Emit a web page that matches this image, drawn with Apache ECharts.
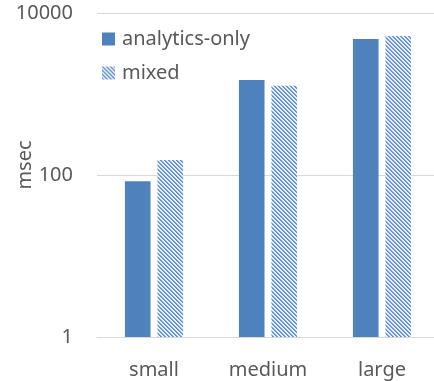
<!DOCTYPE html>
<html>
<head>
<meta charset="utf-8">
<script src="https://cdn.jsdelivr.net/npm/echarts@6/dist/echarts.min.js"></script>
<style>
  html, body { margin: 0; padding: 0; background: #fff; }
  #chart { width: 434px; height: 381px; }
</style>
</head>
<body>
<div id="chart"></div>
<script>
// Query response times per dataset size
const categories = ['small', 'medium', 'large'];
const analyticsOnly = [84, 1490, 4780];
const mixed = [153, 1260, 5200];
const seriesNames = ['analytics-only', 'mixed'];

const BLUE = '#4f81bd';
const TEXT = '#595959';
const GRID = '#d9d9d9';

// Fine diagonal hatch used for the "mixed" bars
function hatchPattern() {
  const c = document.createElement('canvas');
  c.width = 4; c.height = 4;
  const ctx = c.getContext('2d');
  ctx.fillStyle = '#eaf0f9';
  ctx.fillRect(0, 0, 4, 4);
  for (let y = 0; y < 4; y++) {
    for (let x = 0; x < 4; x++) {
      const d = ((x - y) % 4 + 4) % 4;
      if (d === 0) { ctx.fillStyle = '#5a8ad0'; ctx.fillRect(x, y, 1, 1); }
      if (d === 1) { ctx.fillStyle = '#7ea3da'; ctx.fillRect(x, y, 1, 1); }
    }
  }
  return { image: c, repeat: 'repeat' };
}
const hatch = hatchPattern();

const chart = echarts.init(document.getElementById('chart'), null, { renderer: 'canvas' });
chart.setOption({
  animation: false,
  textStyle: { fontFamily: 'Noto Sans', color: TEXT },
  grid: { left: 97, top: 13, bottom: 44, width: 342, containLabel: false, outerBoundsMode: 'none' },
  legend: {
    orient: 'vertical',
    left: 97,
    top: 24,
    itemWidth: 13,
    itemHeight: 13,
    itemGap: 14,
    icon: 'rect',
    textStyle: { fontSize: 20, color: TEXT, fontFamily: 'Noto Sans', padding: [0, 0, 0, 2] },
    data: seriesNames
  },
  xAxis: {
    type: 'category',
    data: categories,
    axisLine: { lineStyle: { color: GRID, width: 1 } },
    axisTick: { show: false },
    axisLabel: { fontSize: 20, color: TEXT, margin: 23, fontFamily: 'Noto Sans' }
  },
  yAxis: {
    type: 'log',
    logBase: 100,
    min: 1,
    max: 10000,
    name: 'msec',
    nameLocation: 'middle',
    nameGap: 62,
    nameRotate: 90,
    nameMoveOverlap: false,
    nameTextStyle: { fontSize: 20, color: TEXT, fontFamily: 'Noto Sans', padding: [0, 0, 0, 20] },
    axisLine: { show: false },
    axisTick: { show: false },
    splitLine: { lineStyle: { color: GRID, width: 1 } },
    axisLabel: {
      fontSize: 20, color: TEXT, margin: 24, fontFamily: 'Noto Sans',
      formatter: v => String(Math.round(v))
    }
  },
  series: [
    {
      name: seriesNames[0],
      type: 'bar',
      data: analyticsOnly,
      barGap: '27%',
      barCategoryGap: '49%',
      itemStyle: { color: BLUE }
    },
    {
      name: seriesNames[1],
      type: 'bar',
      data: mixed,
      barGap: '27%',
      barCategoryGap: '49%',
      itemStyle: { color: hatch }
    }
  ]
});
</script>
</body>
</html>
